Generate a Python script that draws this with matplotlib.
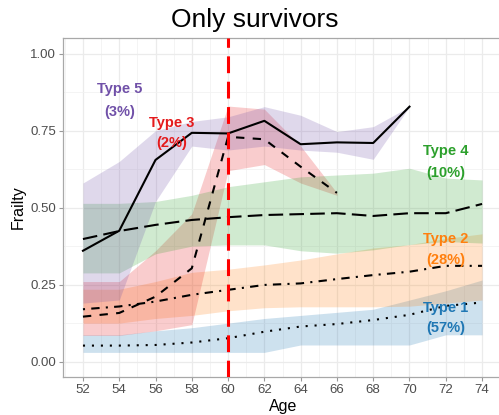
import matplotlib
matplotlib.use("Agg")
import matplotlib.pyplot as plt
from matplotlib.ticker import MultipleLocator

plt.rcParams["font.family"] = ["Liberation Sans", "DejaVu Sans"]

# frailty trajectories by latent type (survivors only)
ages = [52, 54, 56, 58, 60, 62, 64, 66, 68, 70, 72, 74]
ages_t5 = ages[:10]
ages_t3 = ages[:8]

t1_mean = [0.052, 0.052, 0.054, 0.062, 0.076, 0.097, 0.114, 0.122, 0.135, 0.152, 0.181, 0.192]
t1_lo = [0.030, 0.030, 0.030, 0.030, 0.030, 0.030, 0.054, 0.054, 0.054, 0.054, 0.087, 0.087]
t1_hi = [0.087, 0.087, 0.100, 0.110, 0.125, 0.140, 0.150, 0.160, 0.170, 0.200, 0.230, 0.265]

t2_mean = [0.170, 0.179, 0.195, 0.217, 0.233, 0.249, 0.254, 0.268, 0.281, 0.292, 0.311, 0.311]
t2_lo = [0.125, 0.125, 0.140, 0.150, 0.165, 0.175, 0.178, 0.178, 0.178, 0.180, 0.190, 0.200]
t2_hi = [0.235, 0.235, 0.260, 0.290, 0.300, 0.314, 0.330, 0.350, 0.369, 0.380, 0.400, 0.415]

t3_mean = [0.146, 0.158, 0.211, 0.303, 0.730, 0.722, 0.633, 0.548]
t3_lo = [0.085, 0.085, 0.100, 0.120, 0.620, 0.640, 0.580, 0.540]
t3_hi = [0.260, 0.260, 0.360, 0.480, 0.830, 0.820, 0.700, 0.548]

t4_mean = [0.398, 0.424, 0.444, 0.460, 0.469, 0.476, 0.479, 0.482, 0.473, 0.482, 0.482, 0.512]
t4_lo = [0.288, 0.288, 0.350, 0.375, 0.379, 0.379, 0.360, 0.352, 0.363, 0.380, 0.390, 0.385]
t4_hi = [0.514, 0.514, 0.520, 0.540, 0.568, 0.584, 0.600, 0.606, 0.612, 0.628, 0.596, 0.590]

t5_mean = [0.360, 0.425, 0.655, 0.743, 0.741, 0.782, 0.706, 0.712, 0.710, 0.828]
t5_lo = [0.190, 0.200, 0.520, 0.700, 0.687, 0.700, 0.687, 0.680, 0.657, 0.828]
t5_hi = [0.580, 0.650, 0.750, 0.780, 0.795, 0.828, 0.800, 0.747, 0.763, 0.828]

type_names = ["Type 1", "Type 2", "Type 3", "Type 4", "Type 5"]
type_shares = ["(57%)", "(28%)", "(2%)", "(10%)", "(3%)"]
type_colors = ["#1F77B4", "#FF7F0E", "#E41A1C", "#2CA02C", "#7050A8"]
label_x = [72.0, 72.0, 56.9, 72.0, 54.0]
label_y = [0.162, 0.386, 0.763, 0.671, 0.871]
share_y = [0.097, 0.317, 0.698, 0.600, 0.798]
cutoff_age = 60

W, H = 499, 415
fig = plt.figure(figsize=(W / 100, H / 100), dpi=100)
ax = fig.add_axes([63 / W, 1 - 377 / H, (502 - 63) / W, (377 - 38.3) / H])

series = [
    (ages, t1_mean, t1_lo, t1_hi, (0, (1, 3.3))),
    (ages, t2_mean, t2_lo, t2_hi, (0, (1, 3, 4, 3))),
    (ages_t3, t3_mean, t3_lo, t3_hi, (0, (4, 4))),
    (ages, t4_mean, t4_lo, t4_hi, (0, (7, 3))),
    (ages_t5, t5_mean, t5_lo, t5_hi, "-"),
]
for (x, m, lo, hi, ls), c in zip(series, type_colors):
    ax.fill_between(x, lo, hi, color=c, alpha=0.22, lw=0, zorder=2)
for (x, m, lo, hi, ls), c in zip(series, type_colors):
    ax.plot(x, m, color="black", lw=1.5, linestyle=ls, zorder=4)

ax.axvline(cutoff_age, color="#FF0000", lw=2.2, linestyle=(0, (5.5, 2.8)), zorder=5)

for name, share, c, lx, ly, sy in zip(type_names, type_shares, type_colors,
                                      label_x, label_y, share_y):
    ax.text(lx, ly, name, color=c, fontsize=10.5, fontweight="bold",
            ha="center", va="baseline", zorder=6)
    ax.text(lx, sy, share, color=c, fontsize=10.5, fontweight="bold",
            ha="center", va="baseline", zorder=6)

ax.set_xlim(50.9, 75.1)
ax.set_ylim(-0.05, 1.05)
ax.set_xticks(ages)
ax.set_yticks([0, 0.25, 0.5, 0.75, 1.0])
ax.set_yticklabels(["0.00", "0.25", "0.50", "0.75", "1.00"])
ax.xaxis.set_minor_locator(MultipleLocator(1))
ax.yaxis.set_minor_locator(MultipleLocator(0.125))
ax.grid(which="major", color="#EBEBEB", lw=0.9, zorder=0)
ax.grid(which="minor", color="#F2F2F2", lw=0.6, zorder=0)
ax.set_axisbelow(True)
ax.tick_params(which="major", length=3, width=0.8, color="#999999",
               labelcolor="#4D4D4D", labelsize=9.5, pad=2)
ax.tick_params(which="minor", length=0)
for s in ax.spines.values():
    s.set_color("#A8A8A8")
    s.set_linewidth(0.9)

fig.text(255 / W, 1 - 27 / H, "Only survivors", fontsize=19, ha="center", va="baseline")
fig.text(283 / W, 1 - 410.7 / H, "Age", fontsize=11.5, ha="center", va="baseline")
fig.text(18 / W, 1 - 207 / H, "Frailty", fontsize=11.5, rotation=90, ha="center", va="center")

fig.savefig("out.png", dpi=100)
